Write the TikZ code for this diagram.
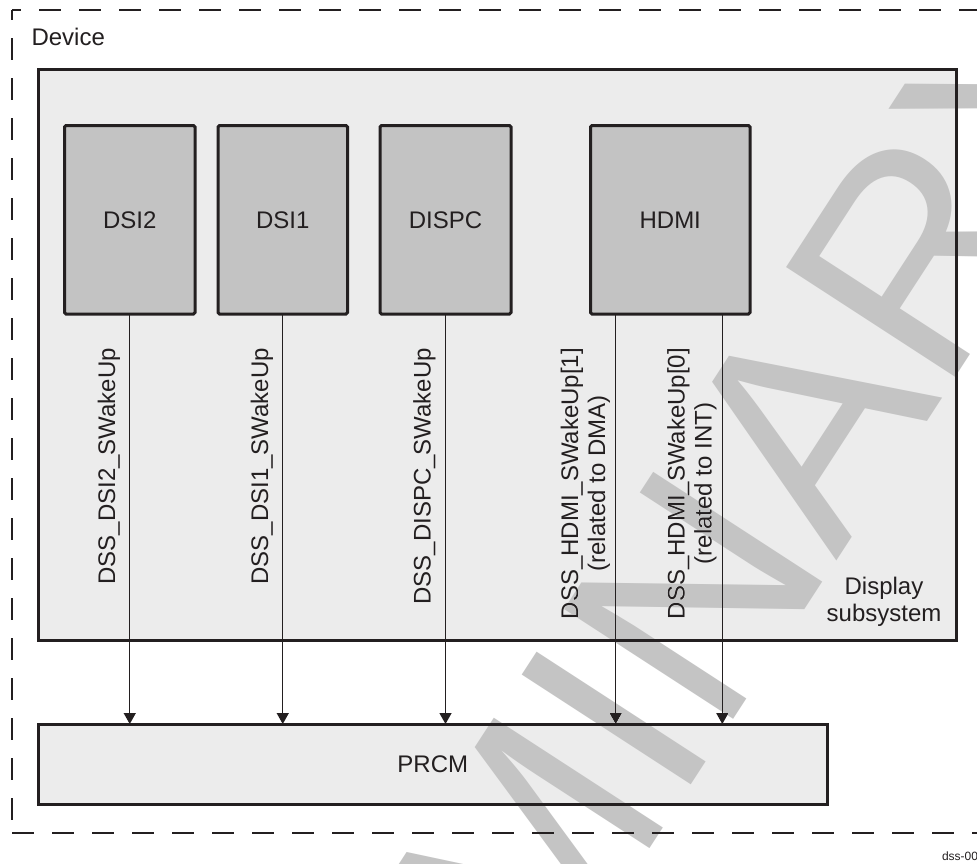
\documentclass[tikz,border=0pt]{standalone}
\usepackage{fontspec}
\setmainfont{Liberation Sans}
\usetikzlibrary{arrows.meta,calc}
\definecolor{ink}{HTML}{231F20}
\definecolor{lightfill}{HTML}{ECECEC}
\definecolor{blockfill}{HTML}{C3C3C3}
\definecolor{wmark}{HTML}{C4C4C4}
\begin{document}
\begin{tikzpicture}[x=1pt,y=-1pt,
  every node/.style={inner sep=0pt, outer sep=0pt, text=ink, font=\fontsize{24}{27}\selectfont},
  subsys/.style={draw=ink, line width=3pt, fill=lightfill, rectangle},
  block/.style={draw=ink, line width=3pt, fill=blockfill, rounded corners=1.5pt, rectangle, minimum height=188.5pt},
  prcmbox/.style={draw=ink, line width=3pt, fill=lightfill, rectangle},
  sig/.style={draw=ink, line width=1.3pt, -{Triangle[length=11pt,width=12pt]}},
  siglabel/.style={rotate=90, anchor=south east, align=center},
  devborder/.style={draw=ink, line width=2.5pt, dash pattern=on 22pt off 18pt},
  wmtext/.style={text=wmark, font=\fontsize{293}{293}\selectfont, rotate=57}
]
\useasboundingbox (0,0) rectangle (977,863);
\fill[white] (0,0) rectangle (977,863);

% device frame
\draw[devborder, dash phase=12.7pt] (12,10) -- (1000,10);
\draw[devborder, dash phase=11.7pt] (12,10) -- (12,833);
\draw[devborder, dash phase=0pt] (12,833) -- (1000,833);
\node[anchor=base west] (device) at (31.5,45) {Device};

% display subsystem
\node[subsys, minimum width=918pt, minimum height=570.5pt] (dss) at (497.5,354.75) {};
\node[anchor=north, align=center] (dsslbl) at (884,577.5) {Display\\subsystem};

% blocks
\node[block, minimum width=130.5pt] (dsi2) at (129.75,219.75) {DSI2};
\node[block, minimum width=129.5pt] (dsi1) at (282.75,219.75) {DSI1};
\node[block, minimum width=131pt] (dispc) at (445.5,219.75) {DISPC};
\node[block, minimum width=159.5pt] (hdmi) at (670.25,219.75) {HDMI};

% PRCM
\node[prcmbox, minimum width=788.5pt, minimum height=80.5pt] (prcm) at (432.75,764.25) {PRCM};

% signals
\coordinate (h1) at ($(hdmi.south west)+(25.2,0)$);
\coordinate (h0) at ($(hdmi.south west)+(131.8,0)$);
\draw[sig] (dsi2.south) -- (dsi2.south |- prcm.north);
\draw[sig] (dsi1.south) -- (dsi1.south |- prcm.north);
\draw[sig] (dispc.south) -- (dispc.south |- prcm.north);
\draw[sig] (h1) -- (h1 |- prcm.north);
\draw[sig] (h0) -- (h0 |- prcm.north);

\node[siglabel] (l2) at (120,348) {DSS\_DSI2\_SWakeUp};
\node[siglabel] (l1) at (273,348) {DSS\_DSI1\_SWakeUp};
\node[siglabel] (lc) at (435.5,348) {DSS\_DISPC\_SWakeUp};
\node[siglabel] (lh1) at (610,348) {DSS\_HDMI\_SWakeUp[1]\\(related to DMA)};
\node[siglabel] (lh0) at (716.5,348) {DSS\_HDMI\_SWakeUp[0]\\(related to INT)};

\node[anchor=base west, font=\fontsize{12}{14}\selectfont] (fig) at (942,860) {dss-00};

% watermark
\begin{scope}
\clip (0,0) rectangle (977,863);
\begin{scope}[blend mode=darken]
\node[wmtext, anchor=base east] (wm1) at (942.5,397.8) {PRELIMINA};
\node[wmtext, anchor=base west] (wm2) at (942.5,397.8) {RY};
\end{scope}
\end{scope}
\end{tikzpicture}
\end{document}
